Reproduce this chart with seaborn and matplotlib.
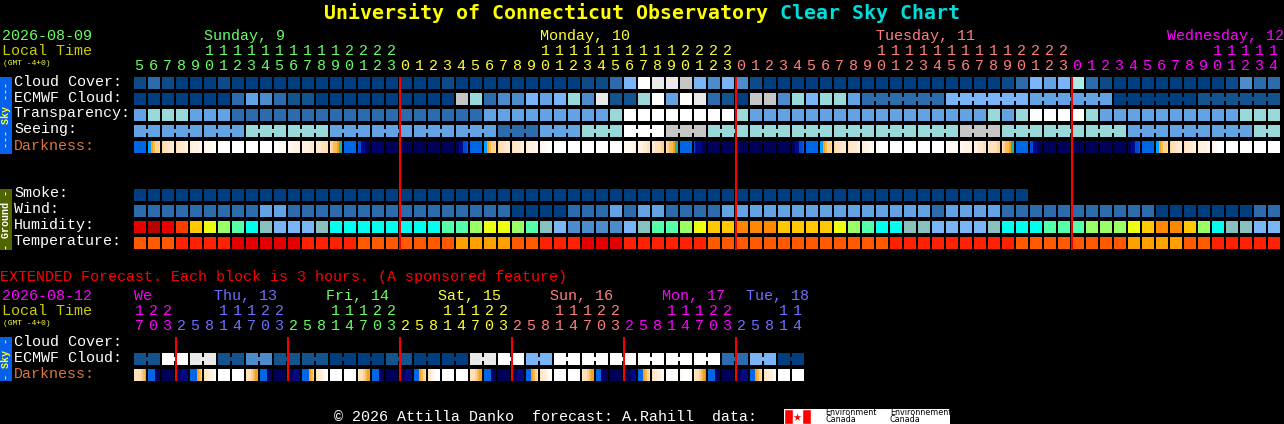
import numpy as np
import matplotlib
matplotlib.use("Agg")
import matplotlib.pyplot as plt
from matplotlib.colors import ListedColormap
import seaborn as sns

W, H = 1284, 424
PX = 72 / 100  # one pixel in points at dpi 100
MONO = "Liberation Mono"

# block colours, letters are used in the row strings below
palette = {
    "a": "#003F7F", "z": "#0C4A88", "b": "#13548F", "c": "#2C6CAC", "d": "#4C8CCC",
    "e": "#63A3E3", "f": "#78B4F6", "g": "#99D9D9", "x": "#AEEAEA",
    "h": "#C6C6C6", "i": "#E9E9E9", "w": "#FFFFFF",
    # humidity
    "r": "#E80000", "R": "#B80000", "o": "#FF3C00", "A": "#FFC800",
    "y": "#ECFF12", "l": "#9AFF66", "s": "#55FFAA", "C": "#00FFEE",
    "T": "#88BFBF", "O": "#FF8800",
    # temperature
    "1": "#FF5A00", "2": "#FF2200", "3": "#E20000", "4": "#FFA000",
}
dark_palette = {
    "n": "#000058", "m": "#000068", "k": "#000A88", "b": "#0048D8",
    "B": "#0066E6", "c": "#00A0FF", "t": "#20B0A0", "l": "#A0A040",
    "o": "#F5A020", "O": "#FABB50", "p": "#FFD090", "q": "#FFE0B8",
    "r": "#FFEAD0", "s": "#FFF2E2", "u": "#FFF9F2", "w": "#FFFFFF",
}

cloud = "zczaaazaaa" "aaaaaaaaaa" "aazaaaaaaa" "aazzcfwiih" "fdfdzaaaaa" "aaaaaaaaaa" "aazcfefxcz" "aaaaaaaazdcc"
ecmwf = "aaaaaaaced" "cbbaaaaaaa" "aaahgcddfe" "fgdibbgwew" "icbahhdgfg" "geccccccff" "ffffeeeeee" "aaaaaabbbbbb"
transparency = "egggeeeccc" "cccccccccc" "ccccceeeee" "eeeegwwwww" "wwwgeeeeee" "eeeeeeeeee" "egegwwwwge" "eeeeeeeeeggg"
seeing = "ee eee eee ggg ggg eee eee eee eee ccc eee ggg www hhh ggg ggg ggg ggg ggg ggg hhh ggg ggg ggg eee eee eee gg"
smoke = "a" * 64
wind = "ccccccccce" "eccccccccc" "cccccccaaa" "accceceecc" "cceeeeeeee" "eeeeeeecee" "eecccccccc" "cccaaaaaaacc"
humidity = "rRroAylsCT" "fffTCCCCCC" "CCsslyylsT" "fddddfTssl" "yAAOOOAAAA" "ylsCCTTfff" "fTCCCsssll" "lyAOOAlCTTff"
temperature = "1112222333" "3322221111" "1114444112" "2233322222" "2111111111" "1111222222" "2221111111" "144441122222"

# each darkness block is sampled seven times left to right
darkness = """
BBBBBBB ccoOppq pqqrrrr qrrrrss rssssuu suuuuww wwwwwww wwwwwww wwwwwww wwwwwww
wwwuuuu uuussss ssssrrr rrrqqqq qpOOott BBBBBBB bbkkmnn mmmmmmm nnnnnnn nnnnnnn
nnnnnnn nnnnnnn nnnnnnn nmkkbbB BBBBBBB ccoOppq pqqrrrr qrrrrss rssssuu suuuwww
wwwwwww wwwwwww wwwwwww wwwwwww wwwwwww uuuuuss sssrrqq rrqqqpp qpOOott BBBBBBB
bkkkmnn nnnnnnn nnnnnnn nnnnnnn nnnnnnn nnnnnnn nnnnnnn nmkkbbB BBBBBBB ccoOppq
pqqrrrr qrrrrss rsssuuu uuwwwww wwwwwww wwwwwww wwwwwww wwwwwww wuuuuuu uusssss
ssrrrqq rqqqqpp qpOOott BBBBBBB bbkkmnn nnnnnnn nnnnnnn nnnnnnn nnnnnnn nnnnnnn
nnnnnnn nmkkbbB BBBBBBB ccoOppq pqqrrrr qrrrrss rssssuu suuwwww wwwwwww wwwwwww
wwwwwww wwwwwww
""".split()

hours = [*range(5, 24)] + [*range(24)] * 2 + [*range(15)]
day_ends = [19, 43, 67, 82]
day_colors = ["#66FF66", "#FFFF33", "#FF7F7F", "#FF00FF"]
day_names = ["Sunday, 9", "Monday, 10", "Tuesday, 11", "Wednesday, 12"]
midnights = [19, 43, 67]

ext_hours = [17, 20, 23] + [2, 5, 8, 11, 14, 17, 20, 23] * 5 + [2, 5, 8, 11, 14]
ext_ends = [3, 11, 19, 27, 35, 43, 48]
ext_colors = ["#FF00FF", "#7070FF", "#66FF66", "#FFFF33", "#FF7F7F", "#FF00FF", "#7070FF"]
ext_names = ["We", "Thu, 13", "Fri, 14", "Sat, 15", "Sun, 16", "Mon, 17", "Tue, 18"]
ext_label_x = [134, 213.5, 325.5, 437.5, 549.5, 661.5, 745.5]
ext_midnights = [3, 11, 19, 27, 35, 43]
ext_ecmwf = "bb ww ii bb dd bb bb aa aa bb aa aa ii ww ff ww ww ww ww ww ww cc ff aa"
ext_darkness = """
qqqqpOo BBBBmnn nnnnnnn mmmkkkk BBBBoOp qrrssuw wwwwwww wwwwwww qqqpOoo BBBBmnn
nnnnnnn nnnkkkk BBBBoOp qrrsuww wwwwwww wwwwwww rqqpOoo BBBBmnn nnnnnnn nnnkkkk
BBBoOpq qrsuwww wwwwwww wwwwwww qqqpOoo BBBBmnn nnnnnnn nnnkkkk BBBoOpq qrrsuww
wwwwwww wwwwwww rqqpOoo BBBmnnn nnnnnnn nnnnkkk BBBoOpq qrrssuu wwwwwww uuwwwww
rqqpOol BBBBmnn nnnnnnn nnnkkkk BBBoOpq qrrssuu wwwwwww wwwwwww
""".split()


def row_axes(left, top, width, height, **kw):
    return plt.gcf().add_axes([left / W, (H - top - height) / H, width / W, height / H], **kw)


def put(x, y, s, color="white", size=10.8, family=MONO, **kw):
    # y is the text baseline in picture pixels
    plt.gcf().text(x / W, 1 - y / H, s, color=color, fontsize=size, family=family, va="baseline", **kw)


def block_row(top, row, ncols):
    """One row of blocks, spaces in the string keep blocks of a group joined."""
    cells = row.replace(" ", "")
    keys = list(palette)
    vals = np.full((1, ncols), np.nan)
    vals[0, :len(cells)] = [keys.index(c) for c in cells]
    ax = row_axes(133, top - 1, 14 * ncols, 14, facecolor="none")
    sns.heatmap(vals, ax=ax, cmap=ListedColormap(list(palette.values())), vmin=-0.5,
                vmax=len(keys) - 0.5, cbar=False, linewidths=2 * PX, linecolor="black",
                xticklabels=False, yticklabels=False)
    return ax


def add_necks(ax, groups, pos=0):
    for g in groups:
        for j in range(1, len(g)):
            ax.hlines(0.5, pos + j - 0.08, pos + j + 0.08, colors=palette[g[0]], lw=4 * PX)
        pos += len(g)


def darkness_row(top, cells):
    keys = list(dark_palette)
    samples = [[keys.index(c) for c in "".join(cells)]]
    ax = row_axes(133, top, 14 * len(cells), 12, facecolor="none")
    sns.heatmap(samples, ax=ax, cmap=ListedColormap(list(dark_palette.values())), vmin=-0.5,
                vmax=len(keys) - 0.5, cbar=False, xticklabels=False, yticklabels=False)
    ax.vlines(np.arange(len(cells) + 1) * 7, 0, 1, colors="black", lw=2 * PX)


def hour_header(tens_y, units_y, hrs, ends, colors):
    # y limits of this axes are picture pixels so the text sits on its baseline
    ax = row_axes(133, tens_y - 15, 14 * len(hrs), units_y - tens_y + 20, facecolor="none")
    ax.set_xlim(0, len(hrs))
    ax.set_ylim(units_y + 5, tens_y - 15)
    ax.axis("off")
    style = dict(family=MONO, fontsize=10.8, ha="center", va="baseline")
    start = 0
    for end, col in zip(ends, colors):
        for i in range(start, end):
            if hrs[i] >= 10:
                ax.text(i + 0.43, tens_y, str(hrs[i] // 10), color=col, **style)
            ax.text(i + 0.43, units_y, str(hrs[i] % 10), color=col, **style)
        start = end


def side_bar(top, height, color, s, txt_color):
    ax = row_axes(0, top, 12, height, facecolor=color)
    ax.set_xticks([])
    ax.set_yticks([])
    for sp in ax.spines.values():
        sp.set_visible(False)
    ax.text(0.5, 0.5, s, transform=ax.transAxes, rotation=90, color=txt_color, family=MONO,
            fontsize=7.2, fontweight="bold", ha="center", va="center")


def red_lines(top, height, ncols, cols):
    ax = row_axes(134, top, 14 * ncols, height, facecolor="none", zorder=5)
    ax.set_xlim(0, ncols)
    ax.set_ylim(0, 1)
    ax.axis("off")
    ax.vlines(cols, 0, 1, colors="#FF0000", lw=2 * PX)


def main():
    sns.set_theme(style="dark", rc={"figure.facecolor": "black", "savefig.facecolor": "black"})
    fig = plt.figure(figsize=(W / 100, H / 100), dpi=100)

    put(324, 19, "University of Connecticut Observatory", "#FFFF00", 14.35, family="DejaVu Sans Mono", fontweight="bold")
    put(780, 19, "Clear Sky Chart", "#00DDDD", 14.35, family="DejaVu Sans Mono", fontweight="bold")

    # main chart header
    put(2, 40, "2026-08-09", "#66FF66")
    put(2, 55, "Local Time", "#CCCC00")
    put(3, 65, "(GMT -4+0)", "#FFFF33", 5.8)
    for name, x, col in zip(day_names[:3], [204, 540, 876], day_colors):
        put(x, 40, name, col)
    put(1284, 40, day_names[3], day_colors[3], ha="right")
    hour_header(55, 70, hours, day_ends, day_colors)

    # sky and ground rows
    for s, y in [("Cloud Cover:", 86), ("ECMWF Cloud:", 102), ("Transparency:", 117), ("Seeing:", 133)]:
        put(14, y, s)
    put(14, 150, "Darkness:", "#D8783C")
    for s, y in [("Smoke:", 197), ("Wind:", 213), ("Humidity:", 229), ("Temperature:", 245)]:
        put(14, y, s)

    block_row(77, cloud, 82)
    ax = block_row(93, ecmwf, 82)
    # the late blocks of this row are 6 hour groups
    add_necks(ax, [ecmwf[52:58], ecmwf[58:64], ecmwf[64:70], ecmwf[70:76], ecmwf[76:82]], pos=52)
    block_row(109, transparency, 82)
    ax = block_row(125, seeing, 82)
    add_necks(ax, seeing.split(" "))
    darkness_row(141, darkness)

    block_row(189, smoke, 82)
    block_row(205, wind, 82)
    block_row(221, humidity, 82)
    block_row(237, temperature, 82)
    red_lines(77, 173, 82, midnights)

    side_bar(77, 77, "#0560EC", "--- Sky ---", "#FFFF33")
    side_bar(189, 61, "#4F6500", "- Ground -", "white")

    # extended forecast
    put(0, 281, "EXTENDED Forecast. Each block is 3 hours. (A sponsored feature)", "#FF0000")
    put(2, 300, "2026-08-12", "#FF00FF")
    put(2, 315, "Local Time", "#CCCC00")
    put(3, 325, "(GMT -4+0)", "#FFFF33", 5.8)
    for name, x, col in zip(ext_names, ext_label_x, ext_colors):
        put(x, 300, name, col)
    hour_header(315, 330, ext_hours, ext_ends, ext_colors)

    put(14, 346, "Cloud Cover:")
    put(14, 362, "ECMWF Cloud:")
    put(14, 378, "Darkness:", "#D8783C")
    ax = block_row(353, ext_ecmwf, 48)
    add_necks(ax, ext_ecmwf.split(" "))
    darkness_row(369, ext_darkness)
    red_lines(337, 44, 48, ext_midnights)
    side_bar(337, 44, "#0560EC", "- Sky -", "#FFFF33")

    # footer
    put(334, 421, "\u00a9 2026 Attilla Danko  forecast: A.Rahill  data:")
    logo = row_axes(784, 409, 166, 15, facecolor="white")
    logo.set_xlim(784, 950)
    logo.set_ylim(15, 0)
    logo.axis("off")
    logo.add_patch(plt.Rectangle((784, 0), 166, 15, color="white"))
    logo.barh(7.5, 8.5, left=784, height=15, color="#FF0000")
    logo.barh(7.5, 9, left=802, height=15, color="#FF0000")
    logo.scatter([797], [7.5], marker="*", s=34, color="#FF0000", linewidths=0)
    for x, s in [(825, "Environment"), (890, "Environnement")]:
        logo.text(x, 3.5, s, color="black", family="DejaVu Sans", fontsize=5.8, va="center")
        logo.text(x, 11, "Canada", color="black", family="DejaVu Sans", fontsize=5.8, va="center")

    fig.savefig("out.png", dpi=100, facecolor="black")


if __name__ == "__main__":
    main()
